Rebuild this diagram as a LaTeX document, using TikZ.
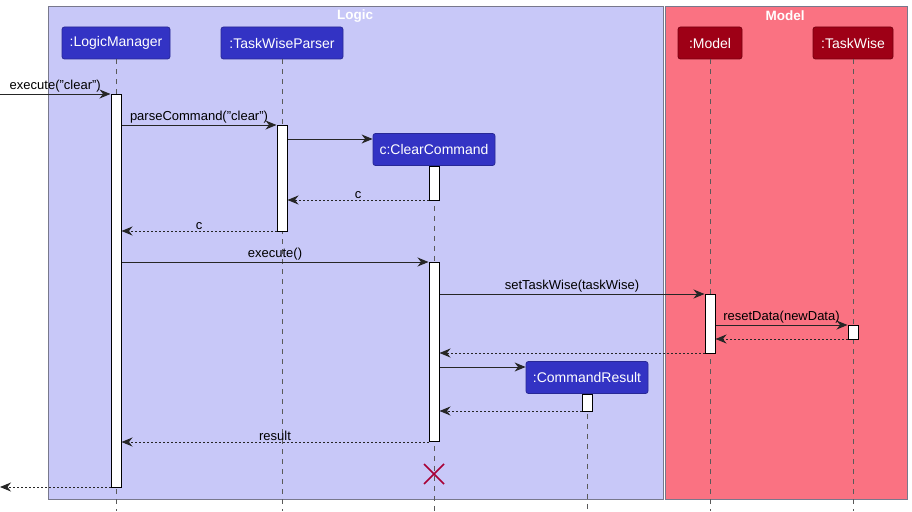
\documentclass[tikz,border=0pt]{standalone}
\usepackage{fontspec}
\setmainfont{Liberation Sans}
\usetikzlibrary{arrows.meta,calc}
\definecolor{logicbg}{RGB}{200,200,248}
\definecolor{modelbg}{RGB}{250,114,130}
\definecolor{framebd}{RGB}{120,120,140}
\definecolor{pblue}{RGB}{51,51,196}
\definecolor{pbluebd}{RGB}{40,40,150}
\definecolor{pred}{RGB}{158,0,22}
\definecolor{predbd}{RGB}{120,0,16}
\definecolor{lifec}{RGB}{90,90,90}
\definecolor{xred}{RGB}{168,0,54}
\tikzset{
  frame/.style={draw=framebd, line width=1pt},
  frametitle/.style={text=white, font=\fontsize{13.5}{15}\selectfont\bfseries, inner sep=0pt},
  part/.style={rounded corners=2.5pt, text=white, font=\fontsize{14}{16}\selectfont, minimum height=32pt, inner sep=0pt, line width=0.8pt},
  bluepart/.style={part, fill=pblue, draw=pbluebd},
  redpart/.style={part, fill=pred, draw=predbd},
  life/.style={draw=lifec, line width=0.8pt, dash pattern=on 5pt off 5pt},
  act/.style={draw=black, fill=white, line width=1pt, minimum width=10pt, inner sep=0pt},
  msg/.style={draw=black!85, line width=1pt, -{Stealth[length=11pt,width=9pt,inset=3.5pt]}},
  ret/.style={msg, dash pattern=on 2pt off 2pt},
  lbl/.style={font=\fontsize{13}{15}\selectfont, inner sep=1pt, above=0pt},
}
\begin{document}
\begin{tikzpicture}[x=1pt,y=-1pt]
\useasboundingbox (0,0) rectangle (912,511);
% frames
\path[frame, fill=logicbg] (48.5,6.5) rectangle (663,499);
\path[frame, fill=modelbg] (665,6.5) rectangle (907,499);
\node[frametitle] (tlogic) at (355,16) {Logic};
\node[frametitle] (tmodel) at (785,16) {Model};
% participants
\node[bluepart, minimum width=108pt] (lm) at (116,43) {:LogicManager};
\node[bluepart, minimum width=122pt] (tp) at (282,43) {:TaskWiseParser};
\node[redpart, minimum width=64pt] (mo) at (710,43) {:Model};
\node[redpart, minimum width=80pt] (tw) at (853,43) {:TaskWise};
\node[bluepart, minimum width=122pt] (cc) at (434,149.5) {c:ClearCommand};
\node[bluepart, minimum width=122pt] (cr) at (587,377.5) {:CommandResult};
% lifeline ends
\coordinate (lmEnd) at (116,511);
\coordinate (tpEnd) at (282,511);
\coordinate (moEnd) at (710,511);
\coordinate (twEnd) at (853,511);
\coordinate (ccEnd) at (434,511);
\coordinate (crEnd) at (587,511);
\draw[life] (lm.south) -- (lmEnd);
\draw[life] (tp.south) -- (tpEnd);
\draw[life] (mo.south) -- (moEnd);
\draw[life] (tw.south) -- (twEnd);
\draw[life] (cc.south) -- (ccEnd);
\draw[life] (cr.south) -- (crEnd);
% activations
\node[act, minimum height=393pt] (lmA) at (116,290.5) {};
\node[act, minimum height=106pt] (tpA) at (282,178) {};
\node[act, minimum height=34pt] (ccA1) at (434,183) {};
\node[act, minimum height=179pt] (ccA2) at (434,351.5) {};
\node[act, minimum height=59pt] (moA) at (710,323.5) {};
\node[act, minimum height=14pt] (twA) at (853,332) {};
\node[act, minimum height=17pt] (crA) at (587,402.5) {};
% message rows
\coordinate (y1) at (0,94);
\coordinate (y2) at (0,125);
\coordinate (y3) at (0,139);
\coordinate (y4) at (0,200);
\coordinate (y5) at (0,231);
\coordinate (y6) at (0,262);
\coordinate (y7) at (0,294);
\coordinate (y8) at (0,325);
\coordinate (y9) at (0,339);
\coordinate (y10) at (0,353);
\coordinate (y11) at (0,367);
\coordinate (y12) at (0,411);
\coordinate (y13) at (0,442);
\coordinate (y14) at (0,487);
\coordinate (inL) at (0,94);
\coordinate (outL) at (0,487);
% messages
\draw[msg] (inL) -- node[lbl] {execute("clear")} (lmA.west |- y1);
\draw[msg] (lmA.east |- y2) -- node[lbl] {parseCommand("clear")} (tpA.west |- y2);
\draw[msg] (tpA.east |- y3) -- (cc.west |- y3);
\draw[ret] (ccA1.west |- y4) -- node[lbl] {c} (tpA.east |- y4);
\draw[ret] (tpA.west |- y5) -- node[lbl] {c} (lmA.east |- y5);
\draw[msg] (lmA.east |- y6) -- node[lbl] {execute()} (ccA2.west |- y6);
\draw[msg] (ccA2.east |- y7) -- node[lbl] {setTaskWise(taskWise)} (moA.west |- y7);
\draw[msg] (moA.east |- y8) -- node[lbl] {resetData(newData)} (twA.west |- y8);
\draw[ret] (twA.west |- y9) -- (moA.east |- y9);
\draw[ret] (moA.west |- y10) -- (ccA2.east |- y10);
\draw[msg] (ccA2.east |- y11) -- (cr.west |- y11);
\draw[ret] (crA.west |- y12) -- (ccA2.east |- y12);
\draw[ret] (ccA2.west |- y13) -- node[lbl] {result} (lmA.east |- y13);
\draw[ret] (lmA.west |- y14) -- (outL);
% destroy mark
\coordinate (xm) at (434,474);
\draw[xred, line width=1.5pt] ($(xm)+(-10,-10)$) -- ($(xm)+(10,10)$) ($(xm)+(-10,10)$) -- ($(xm)+(10,-10)$);
\end{tikzpicture}
\end{document}
